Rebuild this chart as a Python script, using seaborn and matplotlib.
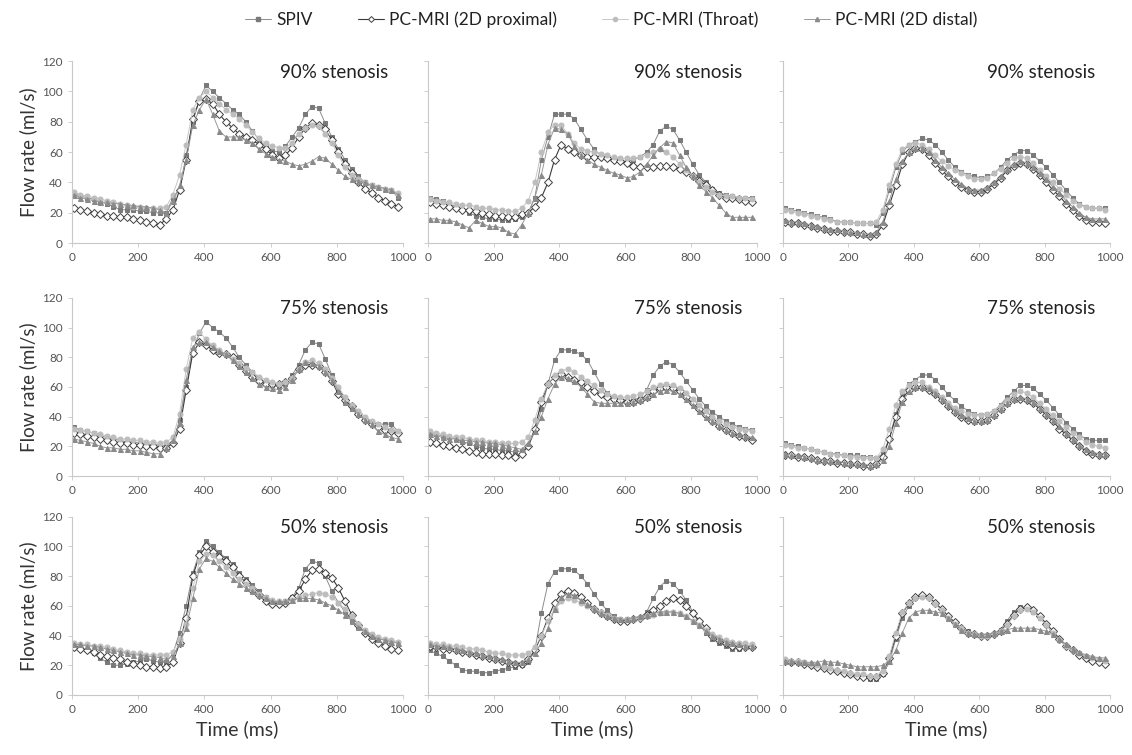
import numpy as np
import pandas as pd
import seaborn as sns
import matplotlib.pyplot as plt
from matplotlib.lines import Line2D

sns.set_style("white")
plt.rcParams['font.family'] = ['Lato', 'DejaVu Sans']

# time samples (ms)
time_ms = [5, 25, 45, 65, 85, 105, 125, 145, 165, 185,
           205, 225, 245, 265, 285, 305, 325, 345, 365, 385,
           405, 425, 445, 465, 485, 505, 525, 545, 565, 585,
           605, 625, 645, 665, 685, 705, 725, 745, 765, 785,
           805, 825, 845, 865, 885, 905, 925, 945, 965, 985]

series_names = ["SPIV", "PC-MRI (2D proximal)", "PC-MRI (Throat)", "PC-MRI (2D distal)"]
stenosis_labels = ["90% stenosis", "75% stenosis", "50% stenosis"]

# ---- 90% stenosis ----
spiv_90_a = [33, 31, 30, 29, 27, 26, 24, 22, 22, 22, 21, 21, 20, 20, 20, 30, 35, 58, 80, 95,
             104, 100, 96, 92, 88, 85, 80, 74, 68, 64, 61, 60, 64, 70, 76, 85, 90, 89, 79, 70,
             62, 55, 49, 44, 40, 38, 37, 36, 35, 30]
prox_90_a = [23, 22, 21, 20, 19, 18, 18, 17, 17, 16, 15, 14, 13, 12, 16, 22, 35, 55, 82, 94,
             95, 92, 85, 80, 76, 72, 70, 68, 65, 62, 58, 56, 58, 63, 70, 76, 79, 78, 75, 68,
             60, 52, 46, 40, 36, 33, 30, 28, 26, 24]
thr_90_a = [34, 32, 31, 30, 29, 28, 27, 26, 25, 24, 24, 23, 23, 23, 24, 32, 45, 65, 88, 96,
            100, 96, 92, 88, 85, 82, 78, 73, 69, 66, 64, 63, 63, 66, 72, 76, 78, 77, 72, 66,
            58, 50, 45, 42, 40, 38, 37, 36, 35, 33]
dist_90_a = [32, 30, 29, 28, 27, 27, 26, 26, 25, 25, 24, 24, 23, 22, 20, 28, 38, 55, 78, 88,
             95, 85, 74, 70, 70, 70, 68, 66, 62, 59, 57, 55, 54, 52, 51, 52, 54, 57, 56, 52,
             48, 44, 42, 41, 40, 38, 37, 36, 35, 32]

spiv_90_b = [30, 29, 28, 26, 24, 22, 20, 18, 17, 16, 16, 15, 15, 16, 17, 20, 30, 55, 70, 85,
             85, 85, 82, 75, 68, 62, 58, 56, 55, 54, 54, 55, 57, 60, 65, 74, 77, 75, 68, 60,
             52, 45, 40, 36, 33, 32, 31, 30, 30, 30]
prox_90_b = [27, 26, 25, 24, 23, 22, 22, 21, 20, 19, 18, 18, 17, 17, 19, 20, 24, 30, 40, 55,
             65, 62, 60, 58, 57, 57, 57, 56, 55, 54, 53, 51, 50, 50, 50, 51, 51, 50, 49, 47,
             44, 41, 38, 35, 32, 30, 30, 29, 28, 27]
thr_90_b = [29, 28, 27, 27, 26, 25, 25, 24, 23, 23, 22, 22, 21, 21, 23, 28, 40, 60, 73, 78,
            78, 72, 66, 62, 61, 60, 59, 58, 57, 56, 56, 56, 57, 58, 60, 62, 60, 57, 52, 48,
            44, 40, 37, 34, 32, 31, 31, 30, 30, 29]
dist_90_b = [16, 16, 15, 15, 14, 12, 10, 15, 13, 11, 11, 10, 7, 6, 12, 20, 30, 45, 65, 76,
             75, 72, 64, 58, 55, 52, 50, 48, 46, 45, 43, 44, 47, 52, 58, 63, 67, 66, 58, 50,
             44, 38, 34, 30, 25, 20, 17, 17, 17, 17]

spiv_90_c = [23, 22, 21, 20, 19, 18, 17, 16, 14, 14, 14, 13, 13, 13, 12, 20, 35, 50, 60, 65,
             67, 69, 68, 65, 60, 55, 50, 47, 45, 44, 43, 44, 46, 50, 55, 58, 61, 61, 58, 54,
             50, 45, 40, 35, 30, 26, 24, 23, 23, 23]
prox_90_c = [14, 13, 13, 12, 11, 10, 9, 8, 8, 7, 7, 6, 6, 5, 6, 12, 25, 38, 52, 60,
             63, 62, 58, 53, 48, 44, 40, 37, 35, 34, 34, 36, 39, 43, 48, 51, 53, 52, 49, 45,
             40, 35, 31, 26, 22, 18, 15, 14, 14, 13]
thr_90_c = [22, 21, 20, 19, 18, 17, 16, 15, 14, 14, 14, 13, 13, 13, 14, 22, 38, 52, 62, 65,
            66, 65, 62, 58, 54, 51, 48, 46, 44, 42, 42, 43, 46, 49, 53, 56, 57, 56, 53, 48,
            44, 40, 36, 32, 28, 25, 24, 23, 23, 22]
dist_90_c = [15, 14, 14, 13, 12, 11, 10, 9, 9, 8, 7, 7, 6, 6, 7, 14, 28, 42, 54, 60,
             63, 63, 60, 55, 50, 46, 42, 39, 36, 35, 35, 37, 40, 44, 49, 52, 54, 53, 50, 46,
             42, 37, 33, 28, 24, 20, 17, 16, 16, 16]

# ---- 75% stenosis ----
spiv_75_a = [33, 31, 30, 29, 27, 26, 25, 24, 23, 23, 22, 22, 21, 21, 20, 22, 38, 60, 85, 96,
             104, 100, 97, 93, 87, 80, 75, 70, 66, 63, 61, 60, 62, 68, 75, 85, 90, 89, 79, 68,
             58, 50, 45, 41, 38, 36, 35, 35, 35, 30]
prox_75_a = [29, 28, 27, 26, 25, 24, 23, 22, 22, 21, 21, 20, 20, 19, 19, 22, 32, 58, 83, 90,
             88, 85, 83, 82, 80, 75, 71, 67, 64, 62, 62, 62, 63, 66, 72, 75, 75, 74, 70, 64,
             55, 51, 47, 42, 38, 35, 33, 31, 30, 29]
thr_75_a = [32, 31, 30, 29, 28, 27, 26, 25, 25, 24, 24, 23, 23, 22, 23, 26, 42, 72, 93, 97,
            92, 88, 85, 82, 79, 76, 73, 70, 67, 65, 63, 62, 63, 66, 72, 77, 78, 76, 72, 66,
            60, 53, 48, 44, 40, 37, 35, 33, 31, 30]
dist_75_a = [25, 24, 23, 22, 20, 19, 19, 18, 18, 17, 17, 16, 15, 15, 19, 24, 36, 65, 87, 90,
             90, 87, 84, 82, 78, 74, 70, 66, 62, 60, 59, 58, 60, 65, 72, 77, 76, 74, 70, 65,
             57, 50, 46, 42, 38, 35, 30, 28, 26, 25]

spiv_75_b = [29, 28, 27, 26, 25, 23, 22, 20, 19, 18, 18, 17, 17, 16, 17, 20, 30, 45, 62, 78,
             85, 85, 84, 82, 78, 70, 62, 56, 53, 52, 51, 51, 53, 58, 68, 74, 77, 75, 70, 64,
             58, 52, 47, 43, 40, 37, 35, 33, 32, 31]
prox_75_b = [23, 22, 21, 20, 19, 18, 17, 16, 15, 15, 15, 14, 14, 13, 15, 20, 32, 50, 62, 67,
             69, 67, 65, 63, 60, 57, 55, 53, 52, 51, 50, 50, 51, 53, 57, 59, 60, 59, 57, 53,
             49, 45, 41, 37, 34, 31, 29, 27, 26, 24]
thr_75_b = [30, 29, 28, 27, 26, 26, 25, 24, 24, 23, 23, 22, 22, 22, 23, 26, 38, 52, 62, 68,
            71, 72, 70, 67, 64, 61, 58, 55, 54, 53, 53, 54, 55, 57, 60, 61, 62, 61, 59, 56,
            52, 48, 44, 40, 37, 35, 33, 32, 31, 30]
dist_75_b = [28, 27, 26, 25, 25, 24, 24, 23, 23, 22, 22, 21, 20, 19, 18, 22, 30, 40, 52, 62,
             67, 66, 64, 60, 55, 50, 49, 49, 49, 49, 49, 50, 51, 53, 55, 57, 58, 57, 55, 52,
             48, 44, 40, 37, 34, 31, 29, 28, 27, 26]

spiv_75_c = [22, 21, 20, 19, 18, 17, 16, 15, 15, 14, 14, 14, 13, 13, 12, 15, 25, 42, 55, 62,
             65, 68, 68, 65, 60, 55, 51, 47, 44, 42, 41, 42, 44, 48, 53, 57, 61, 61, 59, 55,
             51, 46, 41, 36, 32, 28, 25, 24, 24, 24]
prox_75_c = [14, 14, 13, 13, 12, 11, 10, 10, 9, 9, 8, 8, 7, 7, 8, 13, 25, 40, 52, 58,
             60, 60, 58, 55, 51, 47, 43, 40, 38, 37, 37, 38, 41, 45, 49, 52, 52, 51, 49, 45,
             41, 37, 32, 28, 24, 20, 17, 15, 14, 14]
thr_75_c = [21, 20, 19, 19, 18, 17, 16, 15, 14, 14, 13, 13, 12, 12, 12, 18, 32, 48, 57, 61,
            63, 63, 60, 57, 53, 49, 46, 44, 42, 41, 41, 42, 44, 47, 51, 55, 57, 56, 53, 49,
            45, 41, 37, 33, 29, 26, 23, 21, 20, 19]
dist_75_c = [15, 14, 14, 13, 12, 11, 11, 10, 10, 9, 9, 8, 8, 7, 8, 11, 20, 36, 50, 57,
             60, 60, 59, 56, 52, 48, 44, 41, 39, 37, 37, 38, 41, 45, 49, 52, 53, 52, 50, 46,
             42, 38, 34, 29, 25, 21, 18, 16, 15, 15]

# ---- 50% stenosis ----
spiv_50_a = [33, 32, 30, 28, 25, 22, 20, 20, 21, 22, 23, 24, 23, 22, 22, 28, 42, 60, 82, 96,
             104, 100, 96, 92, 88, 82, 78, 74, 70, 66, 63, 62, 63, 66, 72, 85, 90, 89, 80, 70,
             62, 56, 50, 46, 42, 40, 38, 37, 36, 35]
prox_50_a = [32, 31, 30, 29, 27, 26, 25, 24, 22, 21, 20, 19, 19, 18, 19, 22, 35, 52, 80, 94,
             100, 96, 93, 90, 86, 80, 76, 71, 67, 63, 61, 61, 62, 65, 70, 78, 84, 85, 82, 79,
             72, 63, 54, 47, 42, 38, 35, 33, 31, 30]
thr_50_a = [35, 34, 34, 33, 33, 32, 31, 30, 29, 28, 28, 27, 27, 27, 27, 29, 38, 48, 72, 90,
            95, 94, 90, 86, 82, 78, 75, 72, 68, 66, 64, 63, 63, 64, 66, 67, 68, 69, 68, 66,
            62, 58, 53, 48, 44, 41, 39, 38, 37, 36]
dist_50_a = [34, 34, 33, 33, 32, 31, 30, 29, 28, 27, 27, 26, 26, 25, 24, 26, 35, 45, 65, 85,
             92, 90, 86, 82, 78, 75, 72, 70, 67, 65, 63, 63, 63, 64, 65, 65, 65, 64, 62, 60,
             57, 54, 50, 46, 43, 40, 38, 37, 36, 35]

spiv_50_b = [30, 28, 26, 23, 20, 17, 16, 16, 15, 15, 16, 17, 18, 19, 20, 22, 30, 55, 75, 83,
             85, 85, 84, 80, 75, 68, 62, 57, 53, 51, 51, 51, 52, 56, 65, 73, 77, 75, 70, 64,
             56, 48, 42, 38, 35, 33, 31, 31, 32, 32]
prox_50_b = [33, 32, 31, 31, 30, 29, 28, 27, 26, 25, 24, 23, 22, 21, 21, 24, 30, 40, 52, 62,
             68, 70, 69, 66, 62, 58, 55, 53, 51, 50, 50, 51, 52, 54, 57, 60, 63, 65, 64, 60,
             55, 50, 45, 40, 37, 35, 33, 32, 32, 32]
thr_50_b = [35, 34, 34, 33, 33, 32, 31, 31, 30, 29, 28, 28, 27, 27, 27, 28, 32, 40, 50, 58,
            63, 65, 64, 62, 60, 58, 56, 54, 52, 51, 51, 51, 52, 53, 54, 55, 56, 56, 55, 53,
            50, 47, 44, 41, 39, 37, 36, 35, 35, 34]
dist_50_b = [34, 33, 33, 32, 31, 30, 29, 28, 27, 26, 25, 24, 23, 22, 22, 24, 28, 35, 45, 58,
             66, 68, 67, 64, 61, 58, 55, 53, 52, 51, 51, 52, 53, 54, 55, 56, 56, 56, 55, 53,
             50, 47, 43, 40, 38, 36, 35, 34, 33, 33]

spiv_50_c = [23, 23, 22, 22, 21, 20, 19, 17, 16, 15, 14, 13, 12, 11, 11, 14, 22, 38, 52, 60,
             65, 67, 66, 62, 57, 52, 48, 45, 43, 41, 40, 40, 41, 44, 50, 56, 59, 59, 56, 52,
             47, 42, 37, 33, 30, 28, 26, 24, 23, 22]
prox_50_c = [23, 22, 22, 21, 20, 19, 18, 17, 16, 15, 14, 13, 12, 12, 12, 15, 25, 40, 55, 62,
             66, 67, 66, 62, 58, 53, 49, 45, 42, 41, 40, 40, 41, 43, 48, 54, 58, 59, 57, 53,
             48, 43, 38, 33, 30, 27, 25, 23, 22, 21]
thr_50_c = [24, 23, 23, 22, 21, 20, 19, 18, 17, 16, 15, 14, 14, 13, 13, 16, 26, 42, 56, 62,
            65, 66, 65, 61, 57, 52, 48, 45, 42, 41, 40, 40, 41, 43, 47, 53, 57, 58, 56, 52,
            47, 42, 37, 33, 30, 28, 26, 25, 24, 23]
dist_50_c = [23, 23, 22, 22, 22, 22, 23, 22, 22, 21, 20, 19, 19, 19, 19, 20, 23, 30, 42, 52,
             56, 57, 57, 56, 55, 52, 48, 44, 42, 41, 41, 41, 42, 43, 44, 45, 45, 45, 45, 44,
             43, 41, 38, 34, 31, 29, 27, 26, 25, 25]

panels = [
    [(spiv_90_a, prox_90_a, thr_90_a, dist_90_a),
     (spiv_90_b, prox_90_b, thr_90_b, dist_90_b),
     (spiv_90_c, prox_90_c, thr_90_c, dist_90_c)],
    [(spiv_75_a, prox_75_a, thr_75_a, dist_75_a),
     (spiv_75_b, prox_75_b, thr_75_b, dist_75_b),
     (spiv_75_c, prox_75_c, thr_75_c, dist_75_c)],
    [(spiv_50_a, prox_50_a, thr_50_a, dist_50_a),
     (spiv_50_b, prox_50_b, thr_50_b, dist_50_b),
     (spiv_50_c, prox_50_c, thr_50_c, dist_50_c)],
]

# marker styles per series
styles = [
    dict(color="#8c8c8c", marker="s", markersize=3.2, markerfacecolor="#7a7a7a",
         markeredgecolor="#7a7a7a", linewidth=0.7),
    dict(color="#3a3a3a", marker="D", markersize=4.0, markerfacecolor="white",
         markeredgecolor="#404040", markeredgewidth=0.7, linewidth=0.8),
    dict(color="#c8c8c8", marker="o", markersize=3.6, markerfacecolor="#bdbdbd",
         markeredgecolor="#bdbdbd", linewidth=0.7),
    dict(color="#9a9a9a", marker="^", markersize=3.6, markerfacecolor="#8a8a8a",
         markeredgecolor="#8a8a8a", linewidth=0.7),
]

fig = plt.figure(figsize=(11.32, 7.55), dpi=100)

col_left = [0.0636, 0.378, 0.6917]
col_w = [0.2924, 0.2906, 0.289]
row_bottom = [0.678, 0.3695, 0.0795]
row_h = [0.241, 0.236, 0.236]

for r in range(3):
    for c in range(3):
        ax = fig.add_axes([col_left[c], row_bottom[r], col_w[c], row_h[r]])
        for k, vals in enumerate(panels[r][c]):
            df = pd.DataFrame({"t": time_ms, "q": vals})
            sns.lineplot(data=df, x="t", y="q", ax=ax, **styles[k])
        ax.set_xlim(0, 1000)
        ax.set_ylim(0, 120)
        ax.set_xticks([0, 200, 400, 600, 800, 1000])
        ax.set_yticks([0, 20, 40, 60, 80, 100, 120])
        for s in ["top", "right"]:
            ax.spines[s].set_visible(False)
        for s in ["left", "bottom"]:
            ax.spines[s].set_color("#c8c8c8")
            ax.spines[s].set_linewidth(0.8)
        ax.tick_params(axis="both", which="both", direction="out", length=3,
                       width=0.6, color="#c8c8c8", labelsize=8.5, labelcolor="#555555",
                       left=True, bottom=True)
        if c != 0:
            ax.set_yticklabels([])
            ax.set_ylabel("")
        else:
            ax.set_ylabel("Flow rate (ml/s)", fontsize=13.5, color="#333333")
        if r == 2:
            ax.set_xlabel("Time (ms)", fontsize=14, color="#333333")
        else:
            ax.set_xlabel("")
        ax.text(0.955, 0.94, stenosis_labels[r], transform=ax.transAxes,
                ha="right", va="center", fontsize=13.5, color="#222222")

legend_styles = [dict(s, markersize=3) for s in styles]
handles = [Line2D([0], [0], **legend_styles[k]) for k in range(4)]
fig.legend(handles, series_names, loc="upper center", bbox_to_anchor=(0.54, 1.005),
           ncol=4, frameon=False, fontsize=12.5, handlelength=1.5,
           columnspacing=2.6, handletextpad=0.3, labelcolor="#222222")

fig.savefig("out.png", dpi=100)
